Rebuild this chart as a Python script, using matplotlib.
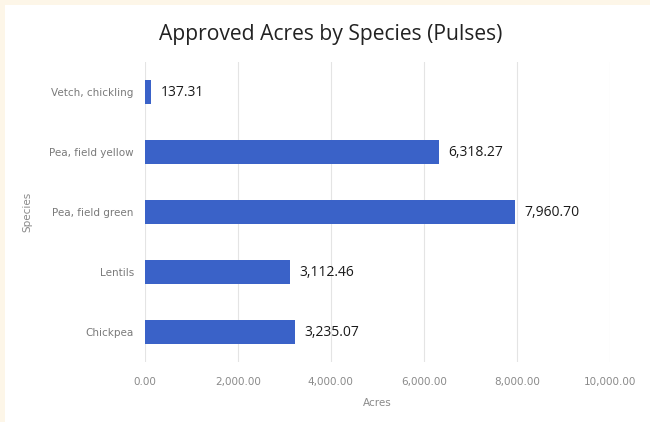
import matplotlib.pyplot as plt
from matplotlib.patches import Rectangle

species = ["Chickpea", "Lentils", "Pea, field green", "Pea, field yellow", "Vetch, chickling"]
acres = [3235.07, 3112.46, 7960.70, 6318.27, 137.31]
x_ticks = [0, 2000, 4000, 6000, 8000, 10000]

fig = plt.figure(figsize=(6.5, 4.22), dpi=100)
fig.patch.set_facecolor('#FDF6E8')
# white card inside the cream border
fig.add_artist(Rectangle((5 / 650, 0), 1, 1 - 5 / 422, transform=fig.transFigure,
                         facecolor='white', edgecolor='none', zorder=-1))

ax = fig.add_axes([0.223, 0.142, 0.715, 0.711])
ax.set_facecolor('white')

bars = ax.barh(range(len(species)), acres, height=0.4, color='#3A62C8', zorder=3)
for i, v in enumerate(acres):
    ax.text(v + 200, i, f"{v:,.2f}", va='center', ha='left', fontsize=10,
            color='#1a1a1a', family='Open Sans')

ax.set_xlim(0, 10000)
ax.set_ylim(-0.5, len(species) - 0.5)
ax.set_xticks(x_ticks)
ax.set_xticklabels([f"{t:,.2f}" for t in x_ticks], fontsize=7.5, color='#8a8a8a')
ax.set_yticks(range(len(species)))
ax.set_yticklabels(species, fontsize=7.5, color='#7a7a7a')
ax.tick_params(axis='y', length=0, pad=8)
ax.tick_params(axis='x', length=0, pad=11)
ax.xaxis.grid(True, color='#e4e4e4', linewidth=0.8, zorder=0)
for s in ax.spines.values():
    s.set_visible(False)

ax.set_xlabel('Acres', fontsize=7.5, color='#8a8a8a', labelpad=8)
ax.set_ylabel('Species', fontsize=7.5, color='#8a8a8a', labelpad=12)
fig.text(0.508, 0.918, 'Approved Acres by Species (Pulses)', ha='center', va='center',
         fontsize=15.2, color='#222222', family='Open Sans')

fig.savefig('out.png', dpi=100, facecolor=fig.get_facecolor())
